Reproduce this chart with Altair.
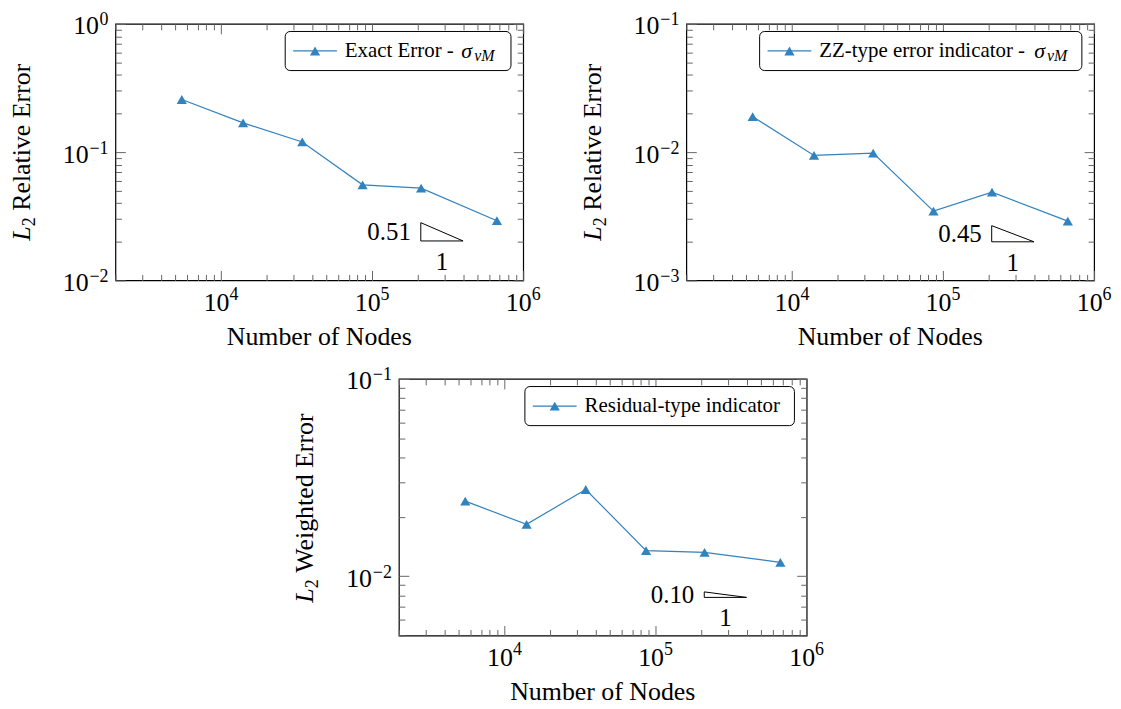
import altair as alt
import pandas as pd

# ---------------- data ----------------
nodes = [5500, 14000, 34500, 86500, 211000, 670000]
exact_error = [0.257, 0.169, 0.120, 0.0556, 0.0524, 0.0292]
zz_error = [0.0189, 0.00942, 0.00983, 0.00347, 0.00488, 0.00290]
residual_error = [0.0240, 0.0183, 0.0275, 0.01346, 0.0132, 0.01175]

x_range = [2000, 1000000]
y_ranges = [[0.01, 1.0], [0.001, 0.1], [0.005, 0.1]]

x_label_values = [1e4, 1e5, 1e6]
x_label_exps = ["4", "5", "6"]
y_label_values = [[1e-2, 1e-1, 1e0], [1e-3, 1e-2, 1e-1], [1e-2, 1e-1]]
y_label_exps = [["\u22122", "\u22121", "0"], ["\u22123", "\u22122", "\u22121"], ["\u22122", "\u22121"]]

slope_text = ["0.51", "0.45", "0.10"]
slope_vals = [0.51, 0.45, 0.10]
slope_x = [210000, 400000]
slope_ybase = [0.0203, 0.0020, 0.0078]

legend_text = ["Exact Error - ", "ZZ-type error indicator - ", "Residual-type indicator"]
legend_sigma = [True, True, False]
y_titles = ["Relative Error", "Relative Error", "Weighted Error"]
x_title = "Number of Nodes"

# ---------------- layout / style ----------------
W, H = 410, 258
FONT = "Liberation Serif"
BLUE = "#3182bd"
TICK_FS, EXP_FS, TITLE_FS, LEG_FS = 26, 18, 26, 21
legend_widths = [227, 324, 271]
sigma_dx = [117, 216]
title_len = [178, 178, 192]
MAJOR = "abs(log(datum.value)/LN10 - round(log(datum.value)/LN10)) < 0.001"

all_ticks = [m * 10.0 ** e for e in range(-4, 7) for m in range(1, 10)]


def tick_axis(orient, offset, values):
    return alt.Axis(orient=orient, offset=offset, values=values, labels=False,
                    domain=False, grid=False, title=None, tickColor="#666666",
                    tickWidth=1,
                    tickSize={"condition": {"test": MAJOR, "value": 10}, "value": 6})


one = pd.DataFrame({"k": [0]})


def panel(i, errs):
    xs = alt.Scale(type="log", domain=x_range, nice=False)
    ys = alt.Scale(type="log", domain=y_ranges[i], nice=False)
    lo, hi = y_ranges[i]
    y_ticks = [t for t in all_ticks if lo * 0.999 <= t <= hi * 1.001]
    x_ticks = [t for t in all_ticks if x_range[0] * 0.999 <= t <= x_range[1] * 1.001]
    df = pd.DataFrame({"nodes": nodes, "err": errs})
    L = []
    L.append(alt.Chart(df).mark_line(color=BLUE, strokeWidth=1.2).encode(
        x=alt.X("nodes:Q", scale=xs, axis=tick_axis("top", -H, x_ticks)),
        y=alt.Y("err:Q", scale=ys, axis=tick_axis("right", -W, y_ticks))))
    L.append(alt.Chart(df).mark_point(shape="triangle-up", filled=True, size=105,
                                      color=BLUE, opacity=1).encode(
        x=alt.X("nodes:Q", scale=xs, axis=tick_axis("bottom", -H, x_ticks)),
        y=alt.Y("err:Q", scale=ys, axis=tick_axis("left", -W, y_ticks))))

    # slope triangle
    x0, x1 = slope_x
    yb = slope_ybase[i]
    yt = yb * (x1 / x0) ** slope_vals[i]
    tri = pd.DataFrame({"x": [x0, x0, x1, x0], "y": [yt, yb, yb, yt], "o": [0, 1, 2, 3]})
    L.append(alt.Chart(tri).mark_line(color="black", strokeWidth=1).encode(
        x=alt.X("x:Q", scale=xs, axis=None), y=alt.Y("y:Q", scale=ys, axis=None),
        order="o:Q"))
    sl = pd.DataFrame({"x": [x0], "y": [(yt * yb) ** 0.5], "t": [slope_text[i]]})
    L.append(alt.Chart(sl).mark_text(font=FONT, fontSize=25, align="right",
                                     baseline="middle", dx=-10).encode(
        x=alt.X("x:Q", scale=xs, axis=None), y=alt.Y("y:Q", scale=ys, axis=None), text="t:N"))
    sr = pd.DataFrame({"x": [(x0 * x1) ** 0.5], "y": [yb]})
    L.append(alt.Chart(sr).mark_text(font=FONT, fontSize=25, baseline="top", dy=9,
                                     text="1").encode(
        x=alt.X("x:Q", scale=xs, axis=None), y=alt.Y("y:Q", scale=ys, axis=None)))

    # x tick labels
    xl = pd.DataFrame({"v": x_label_values, "e": x_label_exps})
    L.append(alt.Chart(xl).mark_text(font=FONT, fontSize=TICK_FS, text="10", dx=-4.5).encode(
        x=alt.X("v:Q", scale=xs, axis=None), y=alt.value(H + 23)))
    L.append(alt.Chart(xl).mark_text(font=FONT, fontSize=EXP_FS, align="left", dx=8.5).encode(
        x=alt.X("v:Q", scale=xs, axis=None), y=alt.value(H + 15), text="e:N"))

    # y tick labels
    yl = pd.DataFrame({"v": y_label_values[i], "e": y_label_exps[i]})
    yl["neg"] = yl["e"].str.startswith("\u2212")
    for neg, wexp in [(True, 20), (False, 9.5)]:
        sub = yl[yl["neg"] == neg]
        if len(sub) == 0:
            continue
        L.append(alt.Chart(sub).mark_text(font=FONT, fontSize=TICK_FS, align="right",
                                          text="10", dy=2.5).encode(
            x=alt.value(-7 - wexp), y=alt.Y("v:Q", scale=ys, axis=None)))
    L.append(alt.Chart(yl).mark_text(font=FONT, fontSize=EXP_FS, align="right", dy=-3.5).encode(
        x=alt.value(-7), y=alt.Y("v:Q", scale=ys, axis=None), text="e:N"))

    # axis titles
    L.append(alt.Chart(one).mark_text(font=FONT, fontSize=TITLE_FS, text=x_title).encode(
        x=alt.value(W / 2), y=alt.value(H + 57)))
    yb0 = H / 2 + title_len[i] / 2
    L.append(alt.Chart(one).mark_text(font=FONT, fontSize=TITLE_FS, fontStyle="italic",
                                      text="L", angle=270, align="left",
                                      baseline="alphabetic").encode(
        x=alt.value(-86), y=alt.value(yb0)))
    L.append(alt.Chart(one).mark_text(font=FONT, fontSize=18, text="2", angle=270,
                                      align="left", baseline="alphabetic").encode(
        x=alt.value(-81), y=alt.value(yb0 - 14.5)))
    L.append(alt.Chart(one).mark_text(font=FONT, fontSize=TITLE_FS, text=y_titles[i],
                                      angle=270, align="left", baseline="alphabetic").encode(
        x=alt.value(-86), y=alt.value(yb0 - 30)))

    # legend
    lx0 = W - 12.3 - legend_widths[i]
    cy = 27.3
    L.append(alt.Chart(one).mark_rect(fill="white", stroke="black", strokeWidth=1,
                                      cornerRadius=5).encode(
        x=alt.value(lx0), x2=alt.value(W - 12.3), y=alt.value(7.7), y2=alt.value(47)))
    L.append(alt.Chart(one).mark_rule(color=BLUE, strokeWidth=1.2).encode(
        x=alt.value(lx0 + 8), x2=alt.value(lx0 + 52), y=alt.value(cy)))
    L.append(alt.Chart(one).mark_point(shape="triangle-up", filled=True, size=105,
                                       color=BLUE, opacity=1).encode(
        x=alt.value(lx0 + 30), y=alt.value(cy)))
    L.append(alt.Chart(one).mark_text(font=FONT, fontSize=LEG_FS, align="left",
                                      text=legend_text[i]).encode(
        x=alt.value(lx0 + 60), y=alt.value(cy)))
    if legend_sigma[i]:
        L.append(alt.Chart(one).mark_text(font=FONT, fontSize=22, align="left",
                                          fontStyle="italic", text="\u03c3").encode(
            x=alt.value(lx0 + 60 + sigma_dx[i]), y=alt.value(cy)))
        L.append(alt.Chart(one).mark_text(font=FONT, fontSize=16, align="left",
                                          fontStyle="italic", text="vM", dy=5).encode(
            x=alt.value(lx0 + 60 + sigma_dx[i] + 13), y=alt.value(cy)))

    return alt.layer(*L).resolve_axis(x="independent", y="independent").properties(
        width=W, height=H, view=alt.ViewBackground(stroke="black", strokeWidth=1.2))


p1 = panel(0, exact_error)
p2 = panel(1, zz_error)
p3 = panel(2, residual_error)

spacer = alt.Chart(one).mark_point(opacity=0).encode(
    x=alt.value(0), y=alt.value(0)).properties(width=166, height=10)

top = alt.hconcat(p1, p2, spacing=37)
bottom = alt.hconcat(spacer, p3, spacing=10)
chart = alt.vconcat(top, bottom, spacing=14).properties(
    padding={"left": 0, "top": 0, "right": 0, "bottom": 0}
).configure_view(stroke="transparent")

chart.save("out.html", embed_options={"renderer": "svg", "actions": False})
